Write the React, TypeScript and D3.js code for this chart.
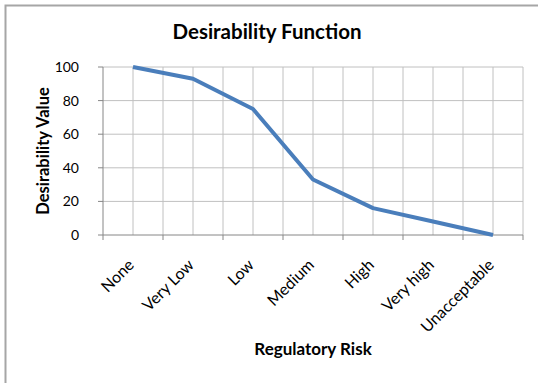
import React from "react";
import * as d3 from "d3";

const categories = ["None", "Very Low", "Low", "Medium", "High", "Very high", "Unacceptable"];
const values = [100, 93, 75, 33, 16, 8, 0];
const yTicks = [0, 20, 40, 60, 80, 100];

const W = 538, H = 383;
const FONT = "Lato, 'Open Sans', sans-serif";

export default function App() {
  const x0 = 103, x1 = 523, y0 = 235, y1 = 67;
  const x = d3.scaleBand<string>().domain(categories).range([x0, x1]);
  const y = d3.scaleLinear().domain([0, 100]).range([y0, y1]);
  const cx = (c: string) => (x(c) as number) + x.bandwidth() / 2;
  const line = d3.line<number>().x((_, i) => cx(categories[i])).y((d) => y(d));

  const vGrid: number[] = [];
  categories.forEach((c) => { vGrid.push(x(c) as number + x.bandwidth() / 2); vGrid.push((x(c) as number) + x.bandwidth()); });
  const boundaries = [x0, ...categories.map((c) => (x(c) as number) + x.bandwidth())];

  return (
    <svg width={W} height={H} style={{ position: "absolute", left: 0, top: 0, background: "#fff" }}>
      <rect x={5.5} y={5.5} width={W} height={H} fill="#fff" stroke="#a6a6a6" strokeWidth={2} />
      <text x={267} y={39} textAnchor="middle" fontFamily={FONT} fontWeight="bold" fontSize={20.5} fill="#000">Desirability Function</text>
      {yTicks.filter((t) => t > 0).map((t) => (
        <line key={"h" + t} x1={x0} x2={x1} y1={y(t)} y2={y(t)} stroke="#c0c0c0" strokeWidth={1} />
      ))}
      {vGrid.map((g, i) => (
        <line key={"v" + i} x1={g} x2={g} y1={y1} y2={y0} stroke="#c0c0c0" strokeWidth={1} />
      ))}
      <line x1={x0} x2={x0} y1={y1} y2={y0} stroke="#868686" strokeWidth={1} />
      <line x1={x0} x2={x1} y1={y0} y2={y0} stroke="#868686" strokeWidth={1} />
      {yTicks.map((t) => (
        <g key={"yt" + t}>
          <line x1={x0 - 5} x2={x0} y1={y(t)} y2={y(t)} stroke="#868686" />
          <text x={x0 - 24} y={y(t) + 5} textAnchor="end" fontFamily={FONT} fontSize={14} fill="#000">{t}</text>
        </g>
      ))}
      {boundaries.map((b, i) => (
        <line key={"xt" + i} x1={b} x2={b} y1={y0} y2={y0 + 5} stroke="#868686" />
      ))}
      {categories.map((c) => (
        <text key={c} transform={`translate(${cx(c) + 2},${y0 + 31}) rotate(-45)`} textAnchor="end" fontFamily={FONT} fontSize={16} fill="#000">{c}</text>
      ))}
      <path d={line(values) || ""} fill="none" stroke="#4a7ebb" strokeWidth={4} strokeLinejoin="round" />
      <text transform={`translate(49,151) rotate(-90)`} textAnchor="middle" fontFamily={FONT} fontWeight="bold" fontSize={16.5} fill="#000">Desirability Value</text>
      <text x={313} y={355} textAnchor="middle" fontFamily={FONT} fontWeight="bold" fontSize={17} fill="#000">Regulatory Risk</text>
    </svg>
  );
}
